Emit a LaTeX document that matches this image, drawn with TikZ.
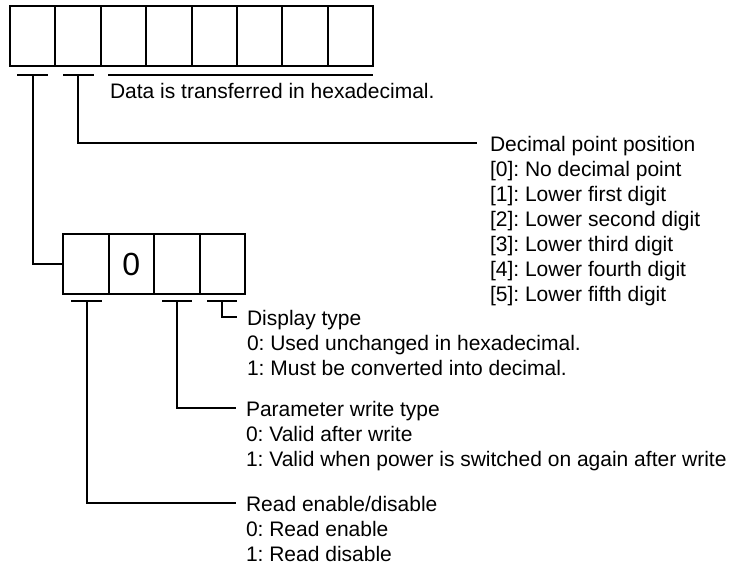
\documentclass[tikz,border=0pt]{standalone}
\usepackage{fontspec}
\setmainfont{Liberation Sans}
\frenchspacing
\begin{document}
\begin{tikzpicture}[x=0.75pt,y=-0.75pt,line width=1.5pt,
  cell/.style={draw,minimum width=34.03pt,minimum height=45pt,inner sep=0pt,outer sep=0pt},
  scell/.style={draw,minimum width=34.125pt,minimum height=45pt,inner sep=0pt,outer sep=0pt},
  lbl/.style={anchor=north west,inner sep=0pt,align=left,font=\fontsize{15.75}{18.75}\selectfont},
  digit/.style={inner sep=0pt,font=\fontsize{24}{28}\selectfont},
  conn/.style={draw,line width=1.5pt}]
\useasboundingbox (0,0) rectangle (736,565);

% top 8-digit box
\foreach \i in {1,...,8} {
  \node[cell] (c\i) at ({10+45.375*(\i-0.5)},36) {};
}
% underlines of the top box
\coordinate (ua1) at (17,75);  \coordinate (ua2) at (48,75);
\coordinate (ub1) at (63,75);  \coordinate (ub2) at (94,75);
\coordinate (uc1) at (108,75); \coordinate (uc2) at (373,75);
\draw[conn] (ua1) -- (ua2);
\draw[conn] (ub1) -- (ub2);
\draw[conn] (uc1) -- (uc2);
\coordinate (tA) at (33,75);
\coordinate (tB) at (78,75);

\node[lbl] (hex) at (109,82) {Data is transferred in hexadecimal.};

% decimal point position
\node[lbl] (dec) at (489,135) {Decimal point position\\
{[0]}: No decimal point\\
{[1]}: Lower first digit\\
{[2]}: Lower second digit\\
{[3]}: Lower third digit\\
{[4]}: Lower fourth digit\\
{[5]}: Lower fifth digit};
\coordinate (decEnd) at (477,143);
\draw[conn] (tB) |- (decEnd);

% small 4-digit box
\foreach \i in {1,...,4} {
  \node[scell] (s\i) at ({63+45.5*(\i-0.5)},264) {};
}
\node[digit] (zero) at (s2.center) {0};
\draw[conn] (tA) |- (s1.west);

% underlines of the small box
\coordinate (va1) at (71,301);  \coordinate (va2) at (102,301);
\coordinate (vb1) at (162,301); \coordinate (vb2) at (192,301);
\coordinate (vc1) at (207,301); \coordinate (vc2) at (237,301);
\draw[conn] (va1) -- (va2);
\draw[conn] (vb1) -- (vb2);
\draw[conn] (vc1) -- (vc2);
\coordinate (bA) at (87,301);
\coordinate (bB) at (177,301);
\coordinate (bC) at (222,301);

% display type
\node[lbl] (disp) at (246,309) {Display type\\
0: Used unchanged in hexadecimal.\\
1: Must be converted into decimal.};
\coordinate (dispEnd) at (237,317);
\draw[conn] (bC) |- (dispEnd);

% parameter write type
\node[lbl] (param) at (245,400) {Parameter write type\\
0: Valid after write\\
1: Valid when power is switched on again after write};
\coordinate (paramEnd) at (236,408);
\draw[conn] (bB) |- (paramEnd);

% read enable/disable
\node[lbl] (read) at (245,495) {Read enable/disable\\
0: Read enable\\
1: Read disable};
\coordinate (readEnd) at (236,503);
\draw[conn] (bA) |- (readEnd);
\end{tikzpicture}
\end{document}
